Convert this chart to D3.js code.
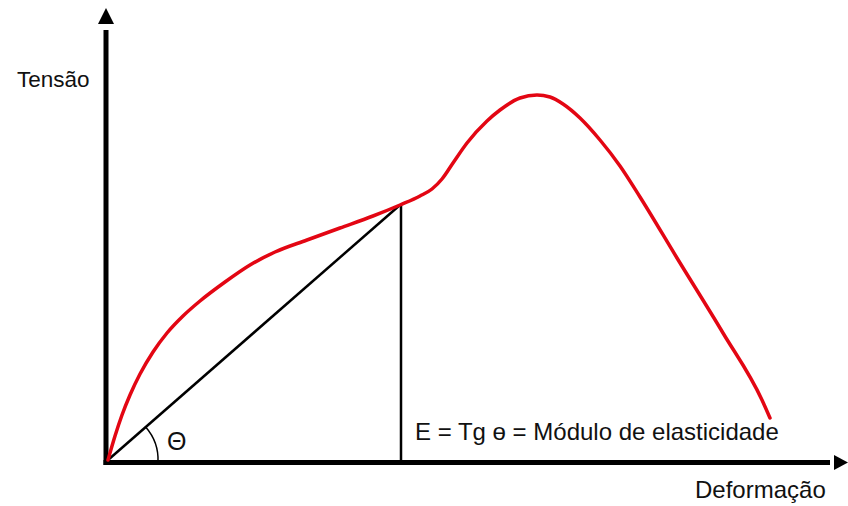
<!DOCTYPE html>
<html>
<head>
<meta charset="utf-8">
<script src="https://cdn.jsdelivr.net/npm/d3@7"></script>
<style>
  html, body { margin: 0; padding: 0; background: #fff; }
  svg { display: block; }
  text { font-family: "Liberation Sans", Arial, sans-serif; fill: #111; }
</style>
</head>
<body>
<svg id="chart" width="848" height="506"></svg>
<script>
// Data (estimated from reference; arbitrary units)
const deformacao = [0, 7, 14, 22, 32, 45, 59, 75, 92, 117, 142, 167, 199, 232, 265, 292, 312, 324, 334, 345, 359, 379, 392, 412, 429, 442, 455, 472, 492, 512, 532, 569, 615, 654, 662];
const tensao     = [0, 24, 45, 65, 86, 108, 127, 144, 159, 178, 195, 208, 220, 232, 244, 255, 264, 271, 281, 297, 317, 339, 350, 362, 365, 363, 356, 342, 320, 294, 263, 202, 127, 60, 42];
const limiteElastico = { x: 292, y: 255 };
const axisLabels = ["Tensão", "Deformação"];
const formula = "E = Tg ө = Módulo de elasticidade";
const angleLabel = "Θ";

const svg = d3.select("#chart");
const x = d3.scaleLinear().domain([0, 740]).range([108, 848]);
const y = d3.scaleLinear().domain([0, 452]).range([460, 8]);

const x0 = x(0) - 2, y0 = y(0) + 2.5;

// Y axis
svg.append("line")
  .attr("x1", x0).attr("x2", x0)
  .attr("y1", y0 + 2.5).attr("y2", y(430))
  .attr("stroke", "#000").attr("stroke-width", 5);
svg.append("path")
  .attr("d", `M${x0},${y(452)} L${x0 - 8},${y(436)} L${x0 + 8},${y(436)} Z`)
  .attr("fill", "#000");

// X axis
svg.append("line")
  .attr("x1", x0 - 2.5).attr("x2", x(722))
  .attr("y1", y0).attr("y2", y0)
  .attr("stroke", "#000").attr("stroke-width", 5);
svg.append("path")
  .attr("d", `M${x(740)},${y0} L${x(726)},${y0 - 7.5} L${x(726)},${y0 + 7.5} Z`)
  .attr("fill", "#000");

// Secant line and vertical drop
svg.append("line")
  .attr("x1", x(0)).attr("y1", y(0))
  .attr("x2", x(limiteElastico.x)).attr("y2", y(limiteElastico.y))
  .attr("stroke", "#000").attr("stroke-width", 2.5);
svg.append("line")
  .attr("x1", x(limiteElastico.x) + 1).attr("y1", y(limiteElastico.y))
  .attr("x2", x(limiteElastico.x) + 1).attr("y2", y0)
  .attr("stroke", "#000").attr("stroke-width", 2.5);

// Angle arc
const ang = Math.atan2(y(0) - y(limiteElastico.y), x(limiteElastico.x) - x(0));
const r = 50;
svg.append("path")
  .attr("d", `M${x(0) + r},${y0} A${r},${r} 0 0 0 ${x(0) + r * Math.cos(ang)},${y(0) - r * Math.sin(ang)}`)
  .attr("fill", "none").attr("stroke", "#000").attr("stroke-width", 1.5);

// Red curve
const pts = deformacao.map((d, i) => [d, tensao[i]]);
svg.append("path")
  .datum(pts)
  .attr("d", d3.line().x(d => x(d[0])).y(d => y(d[1])).curve(d3.curveMonotoneX))
  .attr("fill", "none").attr("stroke", "#e30613").attr("stroke-width", 3.5)
  .attr("stroke-linecap", "round");

// Texts
svg.append("text").attr("x", 17).attr("y", 87).attr("font-size", 22.5).text(axisLabels[0]);
svg.append("text").attr("x", 695).attr("y", 498).attr("font-size", 24).text(axisLabels[1]);
svg.append("text").attr("x", 415).attr("y", 440).attr("font-size", 24).text(formula);
svg.append("text").attr("x", 167).attr("y", 450).attr("font-size", 25).text(angleLabel);
</script>
</body>
</html>
